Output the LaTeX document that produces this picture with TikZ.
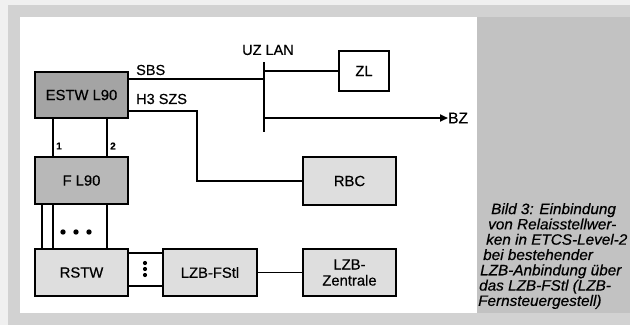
\documentclass[tikz,border=0pt]{standalone}
\usepackage{fontspec}
\setmainfont{Liberation Sans}[FakeBold=0.45]
\newfontfamily\capfont{Liberation Sans}[FakeStretch=1.02, FakeBold=0.5]
\usetikzlibrary{arrows.meta}
\definecolor{bandgray}{HTML}{D2D2D2}
\definecolor{sidegray}{HTML}{C2C2C2}
\definecolor{darkfill}{HTML}{A4A4A4}
\definecolor{midfill}{HTML}{B8B8B8}
\definecolor{lightfill}{HTML}{DEDEDE}
\tikzset{
  blk/.style={draw=black, line width=1.8pt, inner sep=0pt, align=center,
              font=\fontsize{14.8}{16}\selectfont},
  conn/.style={line width=1.8pt},
  lbl/.style={inner sep=0pt, font=\fontsize{14.5}{16}\selectfont},
  numlbl/.style={inner sep=0pt, font=\fontsize{10}{12}\selectfont\bfseries}
}
\begin{document}
\begin{tikzpicture}[x=1pt,y=-1pt]
\useasboundingbox (0,0) rectangle (630,325);
% background frame
\fill[white!94!black] (0,0) rectangle (630,325);
\fill[bandgray] (8,5) rectangle (630,325);
\fill[sidegray] (477,17) rectangle (630,313);
\fill[white] (20,17) rectangle (477,313);

% boxes
\node[blk, fill=darkfill, minimum width=93pt, minimum height=46pt] (ESTW) at (81.5,95) {ESTW L90};
\node[blk, fill=midfill, minimum width=93pt, minimum height=47pt] (FL90) at (81.5,180.5) {F L90};
\node[blk, fill=lightfill, minimum width=93pt, minimum height=47pt] (RSTW) at (81.5,272.5) {RSTW};
\node[blk, fill=lightfill, minimum width=94pt, minimum height=47pt] (FStl) at (210,272.5) {LZB-FStl};
\node[blk, fill=lightfill, minimum width=93pt, minimum height=47pt] (Zent) at (349.5,272.5) {LZB-\\Zentrale};
\node[blk, fill=lightfill, minimum width=93pt, minimum height=48pt] (RBC) at (349.5,181) {RBC};
\node[blk, fill=white, minimum width=50pt, minimum height=40pt] (ZL) at (364,71) {ZL};

% bus
\coordinate (bt) at (264,62);
\coordinate (bb) at (264,132);
\draw[line width=2.2pt] (bt) -- (bb);
\node[lbl] (uzlan) at (268,50) {UZ LAN};

% SBS
\draw[conn] ([yshift=16pt]ESTW.east) -- ([yshift=16pt]ESTW.east -| bt);
\node[lbl, anchor=west] (sbs) at (136,70) {SBS};
% ZL
\draw[conn] (ZL.west) -- (ZL.west -| bt);
% BZ
\node[lbl, anchor=west, font=\fontsize{15.5}{16}\selectfont] (BZ) at (448,118) {BZ};
\draw[conn, -{Triangle[length=8pt,width=7pt]}] (BZ.west -| bt) -- (BZ.west);
% H3 SZS
\coordinate (hc) at (197,150);
\draw[conn] ([yshift=-16pt]ESTW.east) -| (hc) |- (RBC.west);
\node[lbl, anchor=west] (h3) at (136,99) {H3 SZS};

% ESTW -> F L90
\draw[conn] ([xshift=-28.5pt]ESTW.south) -- ([xshift=-28.5pt]FL90.north);
\draw[conn] ([xshift=25.5pt]ESTW.south) -- ([xshift=25.5pt]FL90.north);
\node[numlbl, anchor=west] (n1) at (56,146) {1};
\node[numlbl, anchor=west] (n2) at (110,146) {2};

% F L90 -> RSTW
\draw[conn] ([xshift=-39.5pt]FL90.south) -- ([xshift=-39.5pt]RSTW.north);
\draw[conn] ([xshift=-28.5pt]FL90.south) -- ([xshift=-28.5pt]RSTW.north);
\draw[conn] ([xshift=25.5pt]FL90.south) -- ([xshift=25.5pt]RSTW.north);
\foreach \dx in {63,76,89} \fill (\dx,232) circle (2.7pt);

% RSTW -> LZB-FStl
\draw[conn] ([yshift=19.5pt]RSTW.east) -- ([yshift=19.5pt]FStl.west);
\draw[conn] ([yshift=-13.5pt]RSTW.east) -- ([yshift=-13.5pt]FStl.west);
\foreach \dy in {263,269,275} \fill (145,\dy) circle (2.1pt);

% LZB-FStl -> LZB-Zentrale
\draw[conn] (FStl.east) -- (Zent.west);

% caption
\node[inner sep=0pt, anchor=north west, align=left,
      font=\capfont\fontsize{15}{15.3}\selectfont\itshape] (cap) at (478,203)
{\hspace*{13pt}Bild 3: Einbindung\\
 \hspace*{10pt}von Relaisstellwer-\\
 \hspace*{8pt}ken in ETCS-Level-2\\
 \hspace*{5pt}bei bestehender\\
 \hspace*{2pt}LZB-Anbindung über\\
 \hspace*{1pt}das LZB-FStl (LZB-\\
 Fernsteuergestell)};
\end{tikzpicture}
\end{document}
